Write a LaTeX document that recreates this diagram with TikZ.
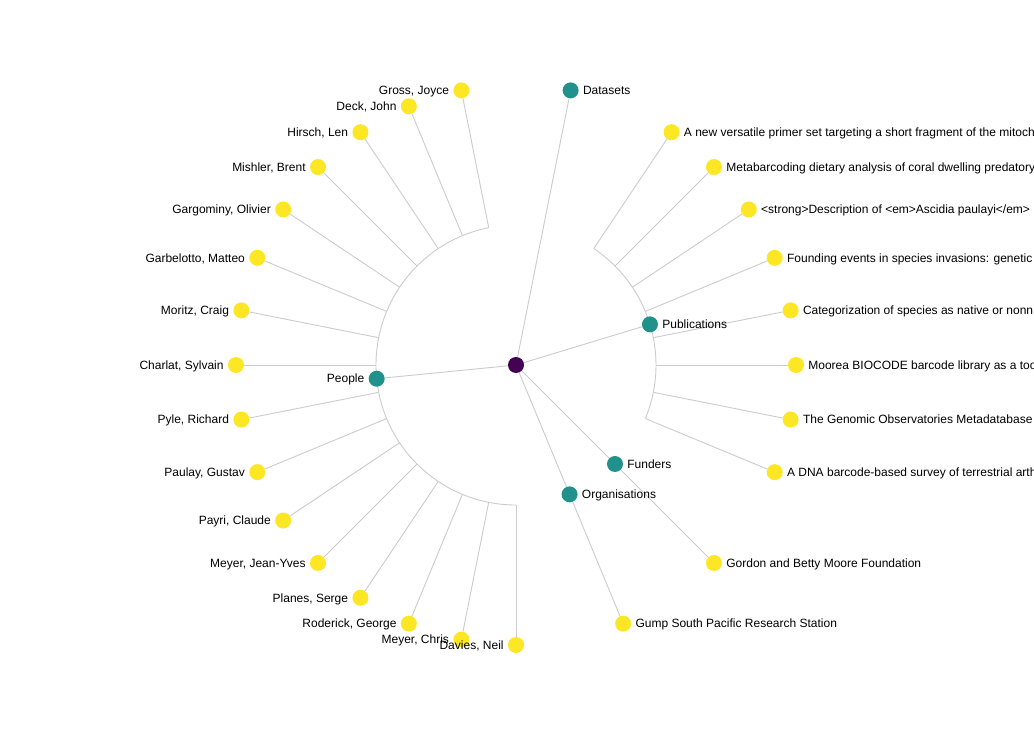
\documentclass[tikz,border=0pt]{standalone}
\usepackage{fontspec}
\setmainfont{Liberation Sans}
\usetikzlibrary{backgrounds}
\definecolor{rootcol}{HTML}{440154}
\definecolor{midcol}{HTML}{21918C}
\definecolor{leafcol}{HTML}{FDE725}
\definecolor{linkcol}{HTML}{CCCCCC}

\begin{document}
\begin{tikzpicture}[x=1pt, y=-1pt, label distance=4pt,
        root_style/.style={circle,fill=rootcol,inner sep=0pt,minimum size=16pt},
        mid_style/.style={circle,fill=midcol,inner sep=0pt,minimum size=16pt},
        leaf_style/.style={circle,fill=leafcol,inner sep=0pt,minimum size=16pt},
        label_style/.style={inner sep=0pt,text height=9pt,text depth=0.5pt,font=\fontsize{12}{14}\selectfont},
        edge_style/.style={draw=linkcol, line width=0.9pt}]

        \useasboundingbox (0,0) rectangle (1034,730);
        \clip (0,0) rectangle (1034,730);

        \begin{scope}[shift={(516,365)}]
        \node [root_style] (root) at (0,0) {};
        \node [mid_style, label={[label_style]right:Datasets}] (datasets) at (-78.75:280) {};
        \node [mid_style, label={[label_style]right:Publications}] (pubs) at (-16.875:140) {};
        \node [mid_style, label={[label_style]right:Funders}] (funders) at (45:140) {};
        \node [mid_style, label={[label_style]right:Organisations}] (orgs) at (67.5:140) {};
        \node [mid_style, label={[label_style]left:People}] (people) at (174.375:140) {};

        \node [leaf_style, label={[label_style]right:{A new versatile primer set targeting a short fragment of the mitoch}}] (pu1) at (-56.25:280) {};
        \node [leaf_style, label={[label_style]right:{Metabarcoding dietary analysis of coral dwelling predatory}}] (pu2) at (-45:280) {};
        \node [leaf_style, label={[label_style]right:{<strong>Description of <em>Ascidia paulayi</em>}}] (pu3) at (-33.75:280) {};
        \node [leaf_style, label={[label_style]right:{Founding events in species invasions: genetic}}] (pu4) at (-22.5:280) {};
        \node [leaf_style, label={[label_style]right:{Categorization of species as native or nonn}}] (pu5) at (-11.25:280) {};
        \node [leaf_style, label={[label_style]right:{Moorea BIOCODE barcode library as a too}}] (pu6) at (0:280) {};
        \node [leaf_style, label={[label_style]right:{The Genomic Observatories Metadatabase}}] (pu7) at (11.25:280) {};
        \node [leaf_style, label={[label_style]right:{A DNA barcode-based survey of terrestrial arth}}] (pu8) at (22.5:280) {};
        \node [leaf_style, label={[label_style]right:{Gordon and Betty Moore Foundation}}] (fu1) at (45:280) {};
        \node [leaf_style, label={[label_style]right:{Gump South Pacific Research Station}}] (or1) at (67.5:280) {};

        \node [leaf_style, label={[label_style]left:{Gross, Joyce}}] (pe16) at (258.75:280) {};
        \node [leaf_style, label={[label_style]left:{Deck, John}}] (pe15) at (247.5:280) {};
        \node [leaf_style, label={[label_style]left:{Hirsch, Len}}] (pe14) at (236.25:280) {};
        \node [leaf_style, label={[label_style]left:{Mishler, Brent}}] (pe13) at (225:280) {};
        \node [leaf_style, label={[label_style]left:{Gargominy, Olivier}}] (pe12) at (213.75:280) {};
        \node [leaf_style, label={[label_style]left:{Garbelotto, Matteo}}] (pe11) at (202.5:280) {};
        \node [leaf_style, label={[label_style]left:{Moritz, Craig}}] (pe10) at (191.25:280) {};
        \node [leaf_style, label={[label_style]left:{Charlat, Sylvain}}] (pe9) at (180:280) {};
        \node [leaf_style, label={[label_style]left:{Pyle, Richard}}] (pe8) at (168.75:280) {};
        \node [leaf_style, label={[label_style]left:{Paulay, Gustav}}] (pe7) at (157.5:280) {};
        \node [leaf_style, label={[label_style]left:{Payri, Claude}}] (pe6) at (146.25:280) {};
        \node [leaf_style, label={[label_style]left:{Meyer, Jean-Yves}}] (pe5) at (135:280) {};
        \node [leaf_style, label={[label_style]left:{Planes, Serge}}] (pe4) at (123.75:280) {};
        \node [leaf_style, label={[label_style]left:{Roderick, George}}] (pe3) at (112.5:280) {};
        \node [leaf_style, label={[label_style]left:{Meyer, Chris}}] (pe2) at (101.25:280) {};
        \node [leaf_style, label={[label_style]left:{Davies, Neil}}] (pe1) at (90:280) {};
        \end{scope}

        \begin{scope}[on background layer]
        \fill [white] (0,0) rectangle (1034,730);
        \end{scope}

        % links, behind the nodes
        \begin{scope}[on background layer, shift={(516,365)}]
        \draw [edge_style] (root) edge (datasets);
        \draw [edge_style] (root) edge (pubs);
        \draw [edge_style] (root) edge (funders);
        \draw [edge_style] (root) edge (orgs);
        \draw [edge_style] (root) edge (people);
        \draw [edge_style] (funders) edge (fu1);
        \draw [edge_style] (orgs) edge (or1);

        \coordinate (cb1) at (-56.25:140);
        \coordinate (cb2) at (-45:140);
        \coordinate (cb3) at (-33.75:140);
        \coordinate (cb4) at (-22.5:140);
        \coordinate (cb5) at (-11.25:140);
        \coordinate (cb6) at (0:140);
        \coordinate (cb7) at (11.25:140);
        \coordinate (cb8) at (22.5:140);
        \draw [edge_style] (cb1) arc[start angle=-56.25, end angle=22.5, radius=140];
        \draw [edge_style] (cb1) edge (pu1);
        \draw [edge_style] (cb2) edge (pu2);
        \draw [edge_style] (cb3) edge (pu3);
        \draw [edge_style] (cb4) edge (pu4);
        \draw [edge_style] (cb5) edge (pu5);
        \draw [edge_style] (cb6) edge (pu6);
        \draw [edge_style] (cb7) edge (pu7);
        \draw [edge_style] (cb8) edge (pu8);

        \coordinate (ca1) at (90:140);
        \coordinate (ca2) at (101.25:140);
        \coordinate (ca3) at (112.5:140);
        \coordinate (ca4) at (123.75:140);
        \coordinate (ca5) at (135:140);
        \coordinate (ca6) at (146.25:140);
        \coordinate (ca7) at (157.5:140);
        \coordinate (ca8) at (168.75:140);
        \coordinate (ca9) at (180:140);
        \coordinate (ca10) at (191.25:140);
        \coordinate (ca11) at (202.5:140);
        \coordinate (ca12) at (213.75:140);
        \coordinate (ca13) at (225:140);
        \coordinate (ca14) at (236.25:140);
        \coordinate (ca15) at (247.5:140);
        \coordinate (ca16) at (258.75:140);
        \draw [edge_style] (ca1) arc[start angle=90, end angle=258.75, radius=140];
        \draw [edge_style] (ca1) edge (pe1);
        \draw [edge_style] (ca2) edge (pe2);
        \draw [edge_style] (ca3) edge (pe3);
        \draw [edge_style] (ca4) edge (pe4);
        \draw [edge_style] (ca5) edge (pe5);
        \draw [edge_style] (ca6) edge (pe6);
        \draw [edge_style] (ca7) edge (pe7);
        \draw [edge_style] (ca8) edge (pe8);
        \draw [edge_style] (ca9) edge (pe9);
        \draw [edge_style] (ca10) edge (pe10);
        \draw [edge_style] (ca11) edge (pe11);
        \draw [edge_style] (ca12) edge (pe12);
        \draw [edge_style] (ca13) edge (pe13);
        \draw [edge_style] (ca14) edge (pe14);
        \draw [edge_style] (ca15) edge (pe15);
        \draw [edge_style] (ca16) edge (pe16);
        \end{scope}
\end{tikzpicture}
\end{document}
